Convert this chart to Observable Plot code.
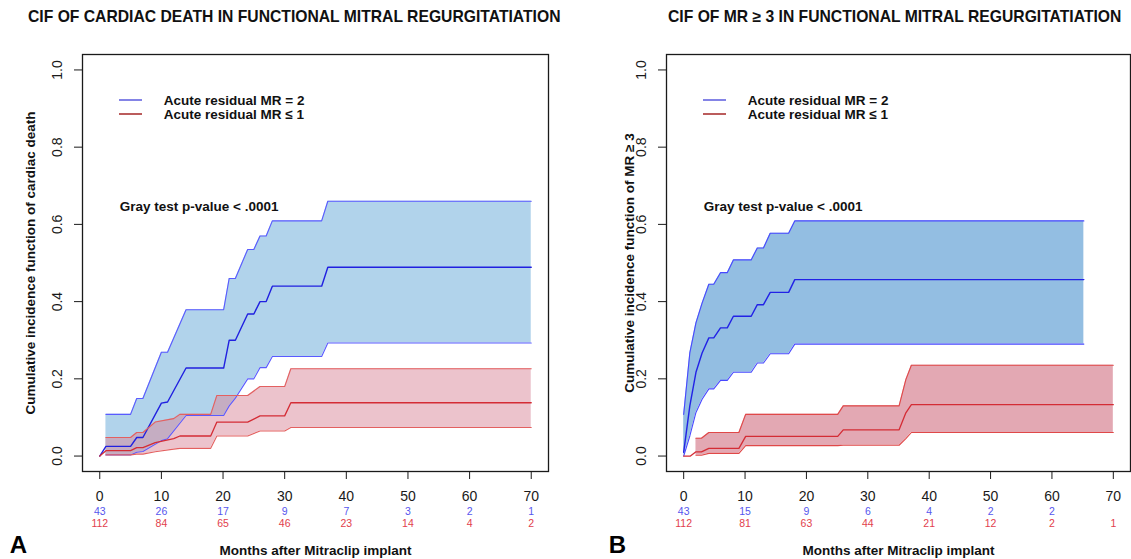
<!DOCTYPE html>
<html><head><meta charset="utf-8">
<script src="https://cdn.jsdelivr.net/npm/d3@7"></script>
<script src="https://cdn.jsdelivr.net/npm/@observablehq/plot@0.6"></script>
<style>
body{margin:0;background:#fff;font-family:"Liberation Sans",Arial,Helvetica,sans-serif;}
#wrap{position:relative;width:1131px;height:559px;overflow:hidden;background:#fff;}
.panel{position:absolute;top:0;}
.title{position:absolute;top:9px;font-weight:bold;font-size:15.7px;line-height:16px;color:#111;white-space:nowrap;}
.sw{position:absolute;height:1.6px;}
</style></head><body><div id="wrap"></div>
<script>
// ---------- text ----------
const panelTitles = ["CIF OF CARDIAC DEATH IN FUNCTIONAL MITRAL REGURGITATIATION", "CIF OF MR \u2265 3 IN FUNCTIONAL MITRAL REGURGITATIATION"];
const yTitles = ["Cumulative incidence function of cardiac death", "Cumulative incidence function of MR \u2265 3"];
const xTitle = "Months after Mitraclip implant";
const panelLetters = ["A", "B"];
const groupNames = ["Acute residual MR = 2", "Acute residual MR \u2264 1"];
const legendColors = ["#8484e6", "#bb5c5c"];
const pText = "Gray test p-value < .0001";
const xTicks = [0, 10, 20, 30, 40, 50, 60, 70];
const yTicks = [0, 0.2, 0.4, 0.6, 0.8, 1.0];

// ---------- Panel A : cardiac death ----------
const aBlueT   = [0, 1, 5, 6, 7, 10, 11, 14, 20.1, 21, 22, 24, 25, 26, 27, 28, 36, 37, 70];
const aBlueEst = [0, .025, .025, .048, .048, .137, .14, .228, .228, .30, .30, .368, .368, .40, .40, .44, .44, .489, .489];
const aBlueLo  = [null, .003, .003, .01, .012, .04, .045, .105, .105, .13, .15, .20, .20, .229, .229, .258, .258, .293, .293];
const aBlueHi  = [null, .108, .108, .149, .149, .269, .269, .379, .379, .46, .46, .535, .535, .57, .57, .609, .609, .66, .66];

const aRedT   = [0, 1, 5, 6, 7, 9, 12, 13, 18, 19, 24, 26, 30, 31, 70];
const aRedEst = [0, .014, .014, .022, .022, .035, .045, .052, .052, .088, .088, .104, .104, .138, .138];
const aRedLo  = [null, .003, .003, .005, .005, .011, .018, .02, .02, .052, .052, .065, .065, .074, .074];
const aRedHi  = [null, .048, .048, .061, .061, .088, .097, .108, .108, .157, .157, .18, .18, .226, .226];

const aRiskBlue = [43, 26, 17, 9, 7, 3, 2, 1];
const aRiskRed  = [112, 84, 65, 46, 23, 14, 4, 2];

// ---------- Panel B : MR >= 3 ----------
const bBlueT   = [0, 1, 2, 3, 4.1, 4.9, 6, 7.1, 8.1, 11, 12, 13, 14.1, 17.1, 18.1, 65.2];
const bBlueEst = [.01, .13, .217, .267, .306, .306, .332, .332, .362, .362, .392, .392, .424, .424, .457, .457];
const bBlueLo  = [0, .052, .113, .147, .174, .174, .196, .196, .217, .217, .241, .241, .265, .265, .29, .29];
const bBlueHi  = [.108, .267, .345, .396, .445, .445, .475, .475, .508, .508, .539, .539, .577, .577, .609, .609];

const bRedT   = [0, 1.1, 2, 2.9, 4.1, 9, 10.1, 25.1, 26, 35.1, 36.2, 37.1, 70];
const bRedEst = [0, 0, .011, .011, .02, .02, .051, .051, .068, .068, .112, .133, .133];
const bRedLo  = [null, null, .002, .002, .007, .007, .027, .027, .028, .028, .045, .061, .061];
const bRedHi  = [null, null, .046, .046, .061, .061, .108, .108, .13, .13, .198, .235, .235];

const bRiskBlue = [43, 15, 9, 6, 4, 2, 2, null];
const bRiskRed  = [112, 81, 63, 44, 21, 12, 2, 1];

// ---------- helpers ----------
function rows(t, est, lo, hi) {
  return t.map((d, i) => ({t: d, est: est[i], lo: lo[i], hi: hi[i]}));
}
function riskRows(vals) {
  return xTicks.map((t, i) => ({t, n: vals[i]})).filter(d => d.n != null);
}

const FONT = "'Liberation Sans', Arial, Helvetica, sans-serif";
const NARROW = "'Liberation Sans Narrow', 'Liberation Sans', Arial, sans-serif";

function panel(cfg) {
  const blue = rows(...cfg.blue);
  const red = rows(...cfg.red);
  const blueBand = blue.filter(d => d.lo != null);
  const redBand = red.filter(d => d.lo != null);
  const T = {textAnchor: "middle", lineAnchor: "middle"};
  const L = {textAnchor: "start", lineAnchor: "middle", frameAnchor: "top-left", fontSize: 13.5, fontWeight: "bold", fill: "#111"};
  return Plot.plot({
    width: cfg.width, height: 559,
    marginLeft: cfg.ml, marginRight: cfg.mr, marginTop: 54, marginBottom: 88,
    x: {domain: [-2.8, 72.8]},
    y: {domain: [-0.04, 1.04]},
    style: {fontFamily: FONT, background: "white", color: "#1a1a1a", overflow: "visible"},
    marks: [
      Plot.areaY(blueBand, {x: "t", y1: "lo", y2: "hi", fill: cfg.blueFill}),
      Plot.areaY(redBand, {x: "t", y1: "lo", y2: "hi", fill: cfg.redFill, fillOpacity: cfg.redOp}),
      Plot.line(blueBand, {x: "t", y: "hi", stroke: cfg.blueCI, strokeWidth: 1.1}),
      Plot.line(blueBand, {x: "t", y: "lo", stroke: cfg.blueCI, strokeWidth: 1.1}),
      Plot.line(blue, {x: "t", y: "est", stroke: cfg.blueEst, strokeWidth: 1.4}),
      Plot.line(redBand, {x: "t", y: "hi", stroke: cfg.redCI, strokeWidth: 1.1}),
      Plot.line(redBand, {x: "t", y: "lo", stroke: cfg.redCI, strokeWidth: 1.1}),
      Plot.line(red, {x: "t", y: "est", stroke: cfg.redEst, strokeWidth: 1.3}),
      Plot.frame({stroke: "#1a1a1a", strokeWidth: 1.3}),
      Plot.axisX({ticks: xTicks, tickSize: 8, tickPadding: 12, fontSize: 14, label: null, tickFormat: d => d}),
      Plot.axisY({ticks: yTicks, tickSize: 8, tickFormat: () => "", label: null}),
      Plot.text(yTicks, {...T, y: d => d, frameAnchor: "left", dx: -25, rotate: -90, text: d => d.toFixed(1), fontSize: 14, fill: "#1a1a1a"}),
      Plot.text(riskRows(cfg.riskBlue), {...T, x: "t", text: "n", frameAnchor: "bottom", dy: 39.7, fontSize: 10.5, fill: "#5656ee", fontFamily: NARROW}),
      Plot.text(riskRows(cfg.riskRed), {...T, x: "t", text: "n", frameAnchor: "bottom", dy: 51.7, fontSize: 10.5, fill: "#e2404c", fontFamily: NARROW}),
      Plot.text([cfg.yTitle], {...T, text: d => d, frameAnchor: "left", dx: cfg.yTitleDx, rotate: -90, fontSize: 13.5, fontWeight: "bold", fill: "#111"}),
      Plot.text([xTitle], {...T, text: d => d, frameAnchor: "bottom", dy: 78.7, fontSize: 13.5, fontWeight: "bold", fill: "#111"}),
      Plot.text([cfg.letter], {...T, text: d => d, frameAnchor: "bottom-left", dx: cfg.letterDx, dy: 74, fontSize: 24, fontWeight: "bold", fill: "#000"}),
      Plot.text([groupNames[0]], {...L, text: d => d, dx: 81.3, dy: 46}),
      Plot.text([groupNames[1]], {...L, text: d => d, dx: 81.3, dy: 60}),
      Plot.text([pText], {...L, text: d => d, dx: 37.3, dy: 151.7})
    ]
  });
}

const wrap = document.getElementById("wrap");
const cfgs = [
  {left: 0, width: 566, ml: 82, mr: 18, letter: panelLetters[0], letterDx: -64, yTitle: yTitles[0], yTitleDx: -52,
   blue: [aBlueT, aBlueEst, aBlueLo, aBlueHi], red: [aRedT, aRedEst, aRedLo, aRedHi],
   riskBlue: aRiskBlue, riskRed: aRiskRed,
   blueFill: "#b1d3eb", redFill: "#d98799", redOp: 0.5,
   blueCI: "#5a5aff", blueEst: "#2020e0", redCI: "#e36060", redEst: "#d42c35"},
  {left: 583, width: 548, ml: 83, mr: 1, letter: panelLetters[1], letterDx: -49, yTitle: yTitles[1], yTitleDx: -37,
   blue: [bBlueT, bBlueEst, bBlueLo, bBlueHi], red: [bRedT, bRedEst, bRedLo, bRedHi],
   riskBlue: bRiskBlue, riskRed: bRiskRed,
   blueFill: "#93bee2", redFill: "#e3a8b3", redOp: 1,
   blueCI: "#4848ff", blueEst: "#2222e6", redCI: "#e04848", redEst: "#d42c35"}
];
const titleLeft = [28, 668];

cfgs.forEach((cfg, k) => {
  const svg = panel(cfg);
  const div = document.createElement("div");
  div.className = "panel";
  div.style.left = cfg.left + "px";
  div.appendChild(svg);
  wrap.appendChild(div);

  const t = document.createElement("div");
  t.className = "title";
  t.style.left = titleLeft[k] + "px";
  t.textContent = panelTitles[k];
  wrap.appendChild(t);

  // legend swatches
  const fl = cfg.left + cfg.ml;
  legendColors.forEach((c, i) => {
    const s = document.createElement("div");
    s.className = "sw";
    s.style.left = (fl + 37.3) + "px";
    s.style.width = "22.4px";
    s.style.top = (99.2 + i * 14) + "px";
    s.style.background = c;
    wrap.appendChild(s);
  });
});
</script>
</body></html>
